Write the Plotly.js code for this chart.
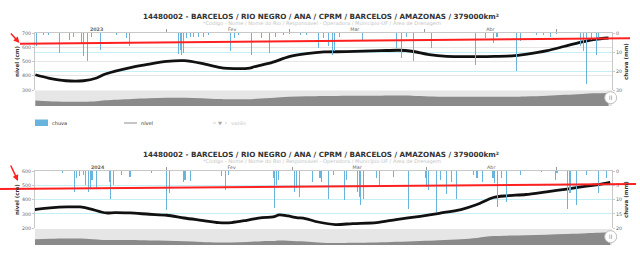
<!DOCTYPE html>
<html><head><meta charset="utf-8">
<script src="https://cdn.plot.ly/plotly-3.0.1.min.js"></script>
<style>html,body{margin:0;padding:0;background:#fff}#chart{width:640px;height:255px}</style>
</head><body><div id="chart"></div>
<script>
// ---------- DATA ----------
const title = '14480002 - BARCELOS / RIO NEGRO / ANA / CPRM / BARCELOS / AMAZONAS / 379000km²';
const subtitle = '*Código - Nome / Nome do Rio / Responsável - Operadora / Município-UF / Área de Drenagem';
const legendNames = ['chuva', 'nível', 'vazão'];
const yTitleLeft = 'nível (cm)';
const yTitleRight = 'chuva (mm)';

const monthLabels2023 = ['<b>2023</b>', 'Fev', 'Mar', 'Abr'];
const monthLabelDates2023 = ['2023-01-16', '2023-02-16', '2023-03-16', '2023-04-16'];
const monthStarts2023 = ['2023-02-01', '2023-03-01', '2023-04-01', '2023-05-01'];
const monthLabels2024 = ['<b>2024</b>', 'Fev', 'Mar', 'Abr'];
const monthLabelDates2024 = ['2024-01-16', '2024-02-16', '2024-03-16', '2024-04-16'];
const monthStarts2024 = ['2024-02-01', '2024-03-01', '2024-04-01', '2024-05-01'];

const nivel2023Dates = ['2023-01-02','2023-01-05','2023-01-09','2023-01-13','2023-01-16','2023-01-18','2023-01-24','2023-01-28','2023-02-01','2023-02-05','2023-02-09','2023-02-13','2023-02-15','2023-02-20','2023-02-21','2023-02-25','2023-03-01','2023-03-05','2023-03-09','2023-03-14','2023-03-22','2023-03-26','2023-03-29','2023-04-02','2023-04-06','2023-04-11','2023-04-17','2023-04-21','2023-04-24','2023-04-29','2023-05-03','2023-05-07','2023-05-10','2023-05-13'];
const nivel2023 = [407,384,365,365,384,412,459,482,501,506,487,459,452,454,463,492,534,555,567,569,576,579,572,548,536,534,536,539,550,576,607,637,656,665];

const chuva2023Dates = ['2023-01-01 20:00','2023-01-02 07:00','2023-01-03 19:00','2023-01-05 00:00','2023-01-07 12:00','2023-01-09 19:00','2023-01-10 17:00','2023-01-12 14:00','2023-01-13 00:00','2023-01-13 22:00','2023-01-14 22:00','2023-01-16 19:00','2023-01-20 14:00','2023-01-22 22:00','2023-01-23 14:00','2023-02-03 17:00','2023-02-04 02:00','2023-02-04 12:00','2023-02-04 19:00','2023-02-05 14:00','2023-02-06 10:00','2023-02-07 02:00','2023-02-08 05:00','2023-02-09 10:00','2023-02-10 12:00','2023-02-15 12:00','2023-02-16 10:00','2023-02-17 10:00','2023-02-20 12:00','2023-02-22 17:00','2023-02-24 12:00','2023-02-25 19:00','2023-02-27 17:00','2023-03-01 02:00','2023-03-03 12:00','2023-03-05 00:00','2023-03-07 17:00','2023-03-08 19:00','2023-03-10 00:00','2023-03-11 00:00','2023-03-11 07:00','2023-03-12 14:00','2023-03-17 19:00','2023-03-25 14:00','2023-03-26 17:00','2023-03-27 22:00','2023-03-29 10:00','2023-04-02 14:00','2023-04-12 12:00','2023-04-14 19:00','2023-04-16 17:00','2023-04-17 12:00','2023-04-22 00:00','2023-04-22 19:00','2023-04-26 14:00','2023-04-28 02:00','2023-04-29 17:00','2023-05-01 05:00','2023-05-06 12:00','2023-05-07 07:00','2023-05-08 00:00','2023-05-09 05:00','2023-05-10 05:00','2023-05-10 17:00'];
const chuva2023 = [5.3,7.0,0.9,1.2,10.5,3.5,1.9,5.3,12.3,14.6,2.3,8.8,1.2,2.6,7.0,11.1,8.8,11.4,10.5,2.6,2.3,1.9,1.9,1.9,1.2,9.6,2.6,1.2,11.8,2.6,10.5,1.9,1.2,0.5,1.2,0.9,7.9,2.6,7.0,11.4,9.6,1.9,4.0,7.9,13.2,1.9,14.9,7.9,16.7,2.6,5.3,1.9,20.2,4.4,1.2,0.9,2.3,0.4,7.0,9.6,26.8,3.5,11.4,2.6];

const nivel2024Dates = ['2024-01-01 12:00','2024-01-05','2024-01-09','2024-01-12','2024-01-14','2024-01-18','2024-01-20','2024-01-23 12:00','2024-01-28','2024-02-01','2024-02-05','2024-02-09','2024-02-13','2024-02-16','2024-02-19 12:00','2024-02-23','2024-02-25 14:00','2024-02-27','2024-02-29','2024-03-02','2024-03-04','2024-03-07','2024-03-11','2024-03-15','2024-03-20 12:00','2024-03-25','2024-03-30 14:00','2024-04-04','2024-04-09','2024-04-12 17:00','2024-04-16 12:00','2024-04-19 14:00','2024-04-24','2024-04-28 19:00','2024-05-03 12:00','2024-05-08','2024-05-11','2024-05-13 12:00'];
const nivel2024 = [331,342,349,349,338,307,310,307,298,291,272,256,240,240,256,275,279,293,286,275,268,244,226,233,240,261,284,305,331,366,415,427,436,455,474,495,507,521];

const chuva2024Dates = ['2024-01-07 22:00','2024-01-10 14:00','2024-01-11 05:00','2024-01-11 19:00','2024-01-12 17:00','2024-01-13 07:00','2024-01-13 22:00','2024-01-14 07:00','2024-01-14 17:00','2024-01-15 19:00','2024-01-18 17:00','2024-01-19 02:00','2024-01-19 17:00','2024-01-21 14:00','2024-01-23 12:00','2024-01-28 12:00','2024-02-01 00:00','2024-02-01 14:00','2024-02-04 19:00','2024-02-05 05:00','2024-02-06 12:00','2024-02-13 17:00','2024-02-14 12:00','2024-02-15 05:00','2024-02-25 14:00','2024-02-26 00:00','2024-02-26 10:00','2024-02-26 19:00','2024-03-01 12:00','2024-03-02 00:00','2024-03-02 17:00','2024-03-05 17:00','2024-03-07 10:00','2024-03-07 19:00','2024-03-09 10:00','2024-03-10 12:00','2024-03-13 00:00','2024-03-13 14:00','2024-03-16 02:00','2024-03-16 12:00','2024-03-16 19:00','2024-03-17 10:00','2024-03-20 12:00','2024-03-21 02:00','2024-03-24 10:00','2024-03-27 22:00','2024-03-31 17:00','2024-04-01 02:00','2024-04-01 12:00','2024-04-03 10:00','2024-04-04 07:00','2024-04-05 14:00','2024-04-06 22:00','2024-04-07 22:00','2024-04-11 22:00','2024-04-12 17:00','2024-04-14 00:00','2024-04-16 10:00','2024-04-16 17:00','2024-04-17 10:00','2024-04-18 10:00','2024-04-19 14:00','2024-04-22 17:00','2024-04-27 17:00','2024-04-30 19:00','2024-05-01 05:00','2024-05-03 14:00','2024-05-04 05:00','2024-05-05 19:00','2024-05-08 02:00','2024-05-10 19:00','2024-05-12 17:00'];
const chuva2024 = [0.8,7.2,2.4,1.9,1.4,4.9,7.2,6.1,3.1,5.8,3.7,9.6,4.9,1.4,2.0,0.8,13.6,7.8,3.7,3.1,3.5,1.9,6.6,1.4,2.6,12.8,4.9,3.1,7.2,6.1,9.0,3.7,2.6,3.7,9.6,1.4,10.1,3.1,7.2,9.0,11.9,9.6,2.6,4.9,2.0,13.1,2.6,5.5,6.6,14.2,3.1,7.9,3.7,9.6,1.4,2.6,3.7,2.6,4.3,12.5,2.6,10.7,1.4,0.3,3.2,0.8,13.1,7.8,11.9,1.4,7.8,2.6];

// ---------- LAYOUT ----------
const W = 640, H = 255;
const px = x => x / W;
const py = y => 1 - y / H;
const FONT = 'DejaVu Sans, Verdana, sans-serif';
const RED = '#ff2020';
const BLUE = '#68b4dd';
const range2023 = ['2023-01-01 22:00', '2023-05-13 19:00'];
const range2024 = ['2024-01-01 13:00', '2024-05-13 22:00'];
const xDom = [px(35), px(612)];
const barWidth = 0.25 * 86400000;

function mainX(domainAnchor, range, labDates, labs, starts) {
  return {
    domain: xDom, anchor: domainAnchor, type: 'date', range: range, side: 'top',
    tickmode: 'array', tickvals: labDates, ticktext: labs, ticks: '', ticklabelstandoff: -1,
    tickfont: {size: 4.8, color: '#666', family: FONT},
    showline: true, linecolor: '#c8c8c8', linewidth: 1, showgrid: false, zeroline: false,
    minor: {tickmode: 'array', tickvals: starts, ticks: 'outside', ticklen: 3, tickcolor: '#999', tickwidth: 1, showgrid: false},
    automargin: false, fixedrange: true
  };
}
function leftY(anchor, dom, rng) {
  return {
    domain: dom, anchor: anchor, range: rng, dtick: 100, tick0: 0,
    showgrid: true, gridcolor: '#e6e6e6', gridwidth: 1, zeroline: false,
    showline: true, linecolor: '#c8c8c8', ticks: 'outside', ticklen: 2, tickcolor: '#c8c8c8',
    tickfont: {size: 4.8, color: '#666', family: FONT},
    title: {text: yTitleLeft, font: {size: 5.5, color: '#333', family: FONT, weight: 'bold'}, standoff: 1},
    automargin: false, fixedrange: true
  };
}
function rightY(over, anchor, rng, dt) {
  return {
    overlaying: over, anchor: anchor, side: 'right', range: rng, dtick: dt, tick0: 0,
    showgrid: true, gridcolor: '#c4eff7', gridwidth: 1, zeroline: false,
    showline: true, linecolor: '#c8c8c8', ticks: 'outside', ticklen: 2, tickcolor: '#c8c8c8',
    tickfont: {size: 4.8, color: '#666', family: FONT},
    title: {text: yTitleRight, font: {size: 5.5, color: '#333', family: FONT, weight: 'bold'}, standoff: 3},
    automargin: false, fixedrange: true
  };
}
const hidden = {visible: false, fixedrange: true, automargin: false};

const traces = [
  {type: 'bar', name: legendNames[0], x: chuva2023Dates, y: chuva2023, xaxis: 'x', yaxis: 'y2', width: barWidth,
   marker: {color: BLUE, line: {width: 0}}, showlegend: false},
  {type: 'scatter', mode: 'lines', name: legendNames[1], x: nivel2023Dates, y: nivel2023, xaxis: 'x', yaxis: 'y',
   line: {color: '#111', width: 2.8, shape: 'spline', smoothing: 0.8}, showlegend: false},
  {type: 'scatter', mode: 'lines', x: nivel2023Dates, y: nivel2023, xaxis: 'x2', yaxis: 'y3',
   fill: 'tozeroy', fillcolor: '#8a8a8a', line: {color: '#8a8a8a', width: 0, shape: 'spline'}, showlegend: false},

  {type: 'bar', name: legendNames[0], x: chuva2024Dates, y: chuva2024, xaxis: 'x3', yaxis: 'y5', width: barWidth,
   marker: {color: BLUE, line: {width: 0}}, showlegend: false},
  {type: 'scatter', mode: 'lines', name: legendNames[1], x: nivel2024Dates, y: nivel2024, xaxis: 'x3', yaxis: 'y4',
   line: {color: '#111', width: 2.8, shape: 'spline', smoothing: 0.8}, showlegend: false},
  {type: 'scatter', mode: 'lines', x: nivel2024Dates, y: nivel2024, xaxis: 'x4', yaxis: 'y6',
   fill: 'tozeroy', fillcolor: '#8a8a8a', line: {color: '#8a8a8a', width: 0, shape: 'spline'}, showlegend: false}
];

function handle(cy) {
  return [
    {type: 'circle', xref: 'paper', yref: 'paper', x0: px(604.7), x1: px(616.7), y0: py(cy + 6), y1: py(cy - 6),
     fillcolor: '#ffffff', line: {color: '#c0c0c0', width: 1}},
    {type: 'line', xref: 'paper', yref: 'paper', x0: px(609.8), x1: px(609.8), y0: py(cy - 2.2), y1: py(cy + 2.2), line: {color: '#999', width: 0.7}},
    {type: 'line', xref: 'paper', yref: 'paper', x0: px(611.6), x1: px(611.6), y0: py(cy - 2.2), y1: py(cy + 2.2), line: {color: '#999', width: 0.7}}
  ];
}

const shapes = [
  {type: 'rect', xref: 'x2 domain', yref: 'y3 domain', x0: 0, x1: 1, y0: 0, y1: 1, fillcolor: '#e6e6e6', line: {width: 0}, layer: 'below'},
  {type: 'rect', xref: 'x4 domain', yref: 'y6 domain', x0: 0, x1: 1, y0: 0, y1: 1, fillcolor: '#e6e6e6', line: {width: 0}, layer: 'below'},
  ...handle(97.7), ...handle(236.7),
  // legend symbols
  {type: 'rect', xref: 'paper', yref: 'paper', x0: px(35), x1: px(48), y0: py(126), y1: py(119.5), fillcolor: BLUE, line: {width: 0}},
  {type: 'line', xref: 'paper', yref: 'paper', x0: px(124), x1: px(137), y0: py(123), y1: py(123), line: {color: '#a0a0a0', width: 1.2}},
  {type: 'line', xref: 'paper', yref: 'paper', x0: px(213), x1: px(227), y0: py(123), y1: py(123), line: {color: '#d0d0d0', width: 1, dash: 'dot'}},
  // red overlay lines
  {type: 'line', xref: 'paper', yref: 'paper', x0: px(20), x1: px(630), y0: py(43.7), y1: py(38.3), line: {color: RED, width: 2}},
  {type: 'line', xref: 'paper', yref: 'paper', x0: px(0), x1: px(636), y0: py(189), y1: py(184), line: {color: RED, width: 2}}
];

const ann = (x, y, text, opts) => Object.assign({xref: 'paper', yref: 'paper', x: px(x), y: py(y), text: text, showarrow: false,
  xanchor: 'left', yanchor: 'middle', font: {size: 5, color: '#333', family: FONT}}, opts || {});

const annotations = [
  ann(321, 154.3, title, {xanchor: 'center', font: {size: 7.2, color: '#333', family: FONT, weight: 'bold'}}),
  ann(322, 23.2, subtitle, {xanchor: 'center', font: {size: 5.1, color: '#c4c4c4', family: FONT}}),
  ann(322, 161.6, subtitle, {xanchor: 'center', font: {size: 5.1, color: '#c4c4c4', family: FONT}}),
  ann(50, 123, legendNames[0]),
  ann(139, 123, legendNames[1]),
  ann(220, 122.5, '▼', {xanchor: 'center', font: {size: 5, color: '#aaa', family: FONT}}),
  ann(229, 123, legendNames[2], {font: {size: 5, color: '#cccccc', family: FONT}}),
  {xref: 'paper', yref: 'paper', x: px(19.5), y: py(43), ax: -10, ay: -11, text: '', showarrow: true,
   arrowcolor: RED, arrowwidth: 1.5, arrowhead: 2, arrowsize: 0.8},
  {xref: 'paper', yref: 'paper', x: px(18), y: py(181), ax: -8, ay: -17, text: '', showarrow: true,
   arrowcolor: RED, arrowwidth: 1.5, arrowhead: 2, arrowsize: 0.8}
];

const layout = {
  width: W, height: H, margin: {l: 0, r: 0, t: 0, b: 0, pad: 0},
  paper_bgcolor: '#ffffff', plot_bgcolor: 'rgba(0,0,0,0)',
  font: {family: FONT, size: 5, color: '#666'},
  showlegend: false, hovermode: false, bargap: 0,
  title: {text: title, x: px(321), xanchor: 'center', xref: 'paper', y: py(16), yanchor: 'middle', yref: 'paper',
          font: {size: 7.2, color: '#333', family: FONT, weight: 'bold'}},
  xaxis: mainX('y', range2023, monthLabelDates2023, monthLabels2023, monthStarts2023),
  yaxis: leftY('x', [py(90), py(33)], [300, 700]),
  yaxis2: rightY('y', 'x', [30, 0], 10),
  xaxis2: Object.assign({domain: xDom, anchor: 'y3', type: 'date', range: range2023}, hidden),
  yaxis3: Object.assign({domain: [py(106), py(90.5)], anchor: 'x2', range: [216, 756]}, hidden),
  xaxis3: mainX('y4', range2024, monthLabelDates2024, monthLabels2024, monthStarts2024),
  yaxis4: leftY('x3', [py(228.3), py(171)], [200, 600]),
  yaxis5: rightY('y4', 'x3', [20, 0], 5),
  xaxis4: Object.assign({domain: xDom, anchor: 'y6', type: 'date', range: range2024}, hidden),
  yaxis6: Object.assign({domain: [py(245), py(229)], anchor: 'x4', range: [173, 608]}, hidden),
  shapes: shapes,
  annotations: annotations
};

Plotly.newPlot('chart', traces, layout, {staticPlot: true, displayModeBar: false});
</script>
</body></html>
